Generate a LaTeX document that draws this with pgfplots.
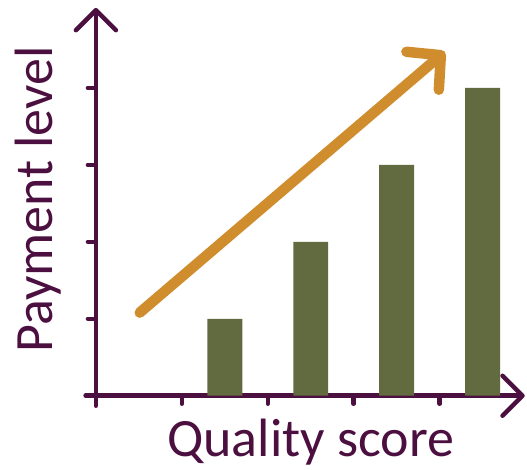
\documentclass[border=0pt]{standalone}
\usepackage{pgfplots}
\pgfplotsset{compat=1.18}
\usetikzlibrary{arrows.meta}
\usepackage{fontspec}
\setmainfont{Carlito}
\definecolor{axispurple}{RGB}{76,16,64}
\definecolor{barolive}{RGB}{97,107,63}
\definecolor{trendorange}{RGB}{208,141,46}
\begin{document}
\begin{tikzpicture}
\begin{axis}[
    x=86pt, y=77pt,
    xmin=-0.12, xmax=4.99,
    ymin=-0.13, ymax=5.04,
    axis lines=middle,
    axis line style={axispurple, line width=4.5pt, line cap=round,
        -{Straight Barb[length=20pt,width=40pt,round]}},
    xtick={1,2,3,4}, ytick={1,2,3,4},
    xticklabels={}, yticklabels={},
    tick style={axispurple, line width=4.5pt, line cap=round},
    tick align=outside,
    major tick length=8pt,
    clip=false,
]
% bars
\addplot[ybar, bar width=35pt, bar shift=0pt, fill=barolive, draw=none]
    coordinates {(1.5,1) (2.5,2) (3.5,3) (4.5,4)};
% trend arrow
\addplot[trendorange, line width=10.5pt, line cap=round,
    -{Straight Barb[length=24pt,width=50pt,round]}]
    coordinates {(0.51,1.08) (4.06,4.47)};
\node[font=\fontsize{54}{60}\selectfont, text=axispurple] at (axis cs:2.5,-0.6) {Quality score};
\node[rotate=90, font=\fontsize{54}{60}\selectfont, text=axispurple] at (axis cs:-0.67,2.55) {Payment level};
\path (axis cs:-1.116,-0.961) rectangle (axis cs:5.012,5.143);
\end{axis}
\end{tikzpicture}
\end{document}
